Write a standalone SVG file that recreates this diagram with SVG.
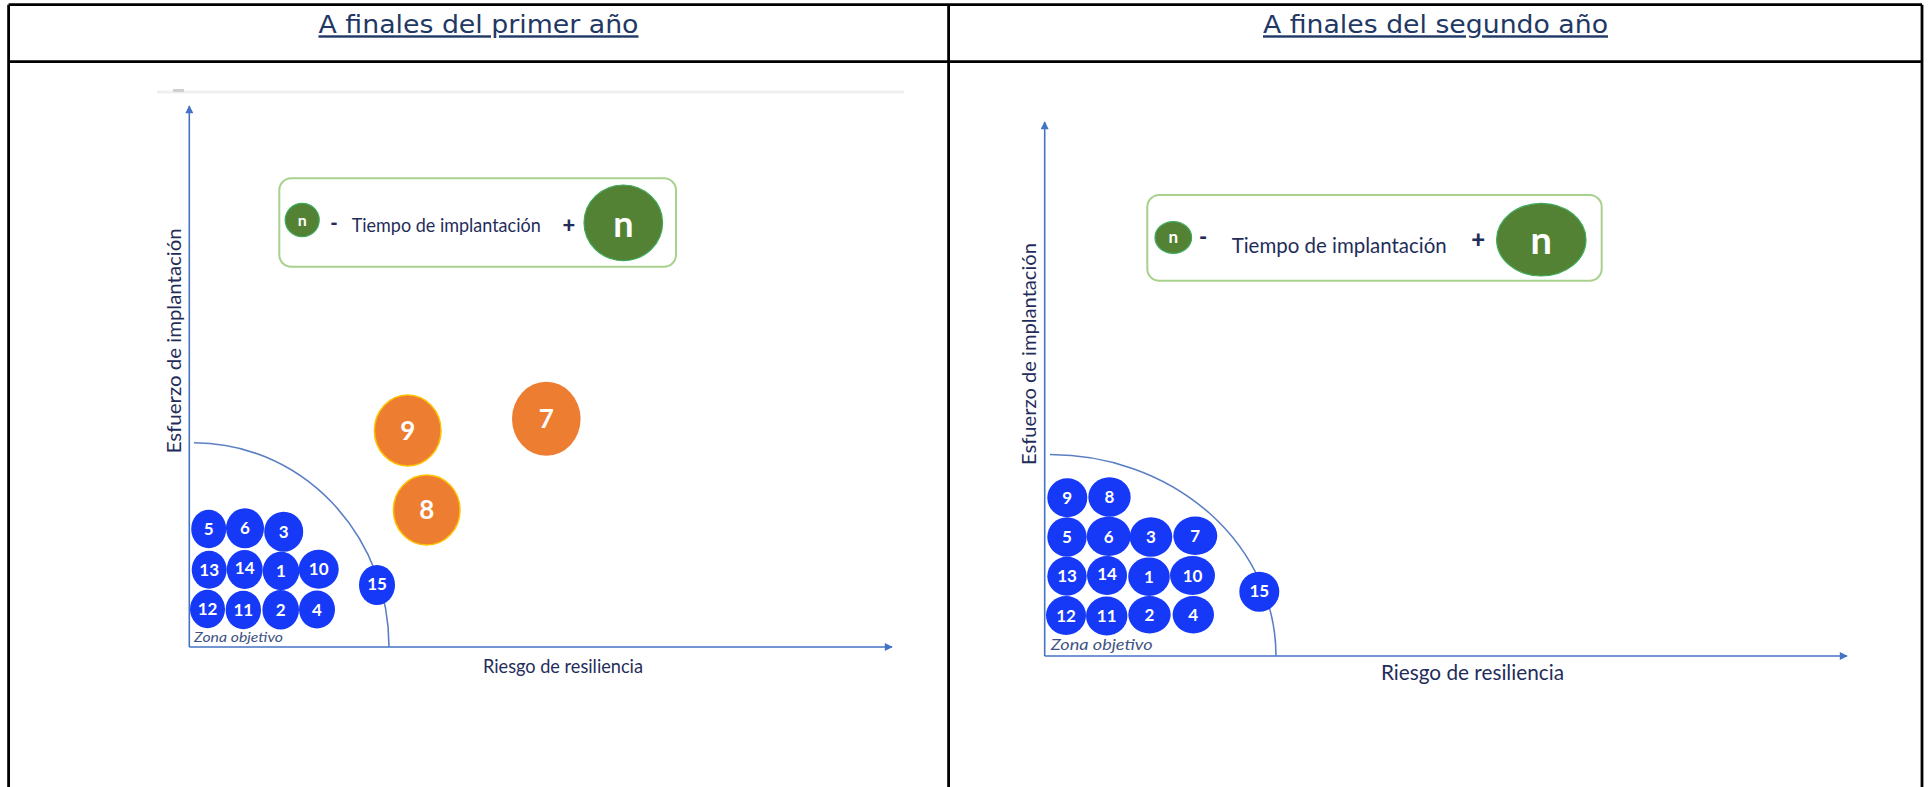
<svg xmlns="http://www.w3.org/2000/svg" width="1928" height="787" viewBox="0 0 1928 787">
<style>
.frame{stroke:#000;stroke-width:2.8;fill:none}
.title{font-family:"DejaVu Sans",Verdana,sans-serif;font-size:24px;fill:#1F3864;text-decoration:underline}
.axis{stroke:#4472C4;stroke-width:1.6;fill:none}
.arc{stroke:#5B7FC4;stroke-width:1.6;fill:none}
.lbl{font-family:Lato,"Open Sans",sans-serif;fill:#1F2D5A}
.zona{font-family:Lato,"Open Sans",sans-serif;font-style:italic;fill:#3E5383}
.legbox{fill:#fff;stroke:#A9D18E;stroke-width:2}
.gdot{fill:#548235;stroke:#3DAA5A;stroke-width:1.2}
.ntxt{font-family:Lato,"Open Sans",sans-serif;font-weight:bold;fill:#fff;text-anchor:middle}
.sign{font-family:Lato,"Open Sans",sans-serif;font-weight:900;fill:#1F2D5A;text-anchor:middle}
.blue{fill:#1539F7}
.orange{fill:#ED7D31;stroke:#FFC000;stroke-width:1.5}
.bnum{font-family:Lato,"Open Sans",sans-serif;font-weight:bold;fill:#fff;text-anchor:middle;font-size:17px}
.onum{font-family:Lato,"Open Sans",sans-serif;font-weight:bold;fill:#fff;text-anchor:middle;font-size:26px}
</style>
<defs>
<marker id="arr" viewBox="0 0 10 10" refX="9" refY="5" markerWidth="10" markerHeight="8" markerUnits="userSpaceOnUse" orient="auto">
<path d="M0,0 L10,5 L0,10 z" fill="#4472C4"/>
</marker>
</defs>
<rect width="1928" height="787" fill="#fff"/>

<g id="table">
<line class="frame" x1="8.6" y1="4.7" x2="1922" y2="4.7"/>
<line class="frame" x1="8.6" y1="61.7" x2="1922" y2="61.7"/>
<line class="frame" x1="8.6" y1="4.7" x2="8.6" y2="787"/>
<line class="frame" x1="948.6" y1="4.7" x2="948.6" y2="787"/>
<line class="frame" x1="1922" y1="4.7" x2="1922" y2="787"/>
<text id="title1" class="title" x="478.5" y="33.3" text-anchor="middle" textLength="320" lengthAdjust="spacingAndGlyphs">A finales del primer año</text>
<text id="title2" class="title" x="1435.5" y="33.3" text-anchor="middle" textLength="345" lengthAdjust="spacingAndGlyphs">A finales del segundo año</text>
</g>

<!-- LEFT CHART -->
<g id="left-chart">
<rect x="157" y="90.5" width="747" height="3" fill="#EFEFEF"/>
<rect x="173" y="89" width="11" height="3" fill="#D0D0D0"/>
<g id="left-axes">
<line class="axis" x1="189.3" y1="647" x2="189.3" y2="106" marker-end="url(#arr)"/>
<line class="axis" x1="189.3" y1="647" x2="892" y2="647" marker-end="url(#arr)"/>
<path class="arc" d="M194,442.7 A195,204 0 0 1 389,647"/>
</g>
<text class="lbl" transform="translate(180.5,340.8) rotate(-90)" text-anchor="middle" font-size="19" textLength="225" lengthAdjust="spacingAndGlyphs">Esfuerzo de implantación</text>
<text class="lbl" x="483" y="672.7" font-size="19" textLength="160" lengthAdjust="spacingAndGlyphs">Riesgo de resiliencia</text>
<text class="zona" x="194" y="641.5" font-size="14" textLength="89" lengthAdjust="spacingAndGlyphs">Zona objetivo</text>

<g id="left-legend">
<rect class="legbox" x="279.3" y="178.3" width="396.7" height="88.4" rx="12"/>
<ellipse class="gdot" cx="302.2" cy="220" rx="17" ry="16.7"/>
<text class="ntxt" x="302.2" y="225.5" font-size="16">n</text>
<text class="sign" x="334" y="230" font-size="20">-</text>
<text class="lbl" x="351.7" y="232" font-size="19" textLength="189" lengthAdjust="spacingAndGlyphs">Tiempo de implantación</text>
<text class="sign" x="569" y="232.5" font-size="22">+</text>
<ellipse class="gdot" cx="623.3" cy="222.8" rx="39.3" ry="37.8"/>
<text class="ntxt" x="623.3" y="236.5" font-size="36">n</text>
</g>

<g id="L-b5"><ellipse class="blue" cx="208.7" cy="529" rx="17.5" ry="19.3"/><text class="bnum" x="208.7" y="535">5</text></g>
<g id="L-b6"><ellipse class="blue" cx="245" cy="528.3" rx="19" ry="20"/><text class="bnum" x="245" y="534.3">6</text></g>
<g id="L-b3"><ellipse class="blue" cx="283.7" cy="531.7" rx="19.5" ry="20"/><text class="bnum" x="283.7" y="537.7">3</text></g>
<g id="L-b13"><ellipse class="blue" cx="209.2" cy="569.8" rx="17.5" ry="19"/><text class="bnum" x="209.2" y="575.8" font-size="16">13</text></g>
<g id="L-b14"><ellipse class="blue" cx="244.7" cy="569.5" rx="18" ry="19.5"/><text class="bnum" x="244.7" y="574.4" font-size="16">14</text></g>
<g id="L-b1"><ellipse class="blue" cx="281" cy="571" rx="18.3" ry="19.2"/><text class="bnum" x="281" y="577">1</text></g>
<g id="L-b10"><ellipse class="blue" cx="318.7" cy="569.2" rx="20" ry="19.5"/><text class="bnum" x="318.7" y="575.2" font-size="16">10</text></g>
<g id="L-b12"><ellipse class="blue" cx="207.5" cy="609" rx="17.5" ry="19.2"/><text class="bnum" x="207.5" y="615" font-size="16">12</text></g>
<g id="L-b11"><ellipse class="blue" cx="243.3" cy="610" rx="17.7" ry="19.3"/><text class="bnum" x="243.3" y="616" font-size="16">11</text></g>
<g id="L-b2"><ellipse class="blue" cx="280.7" cy="609.7" rx="18.3" ry="19.7"/><text class="bnum" x="280.7" y="615.7">2</text></g>
<g id="L-b4"><ellipse class="blue" cx="317" cy="609.5" rx="18" ry="19"/><text class="bnum" x="317" y="615.5">4</text></g>
<g id="L-b15"><ellipse class="blue" cx="377" cy="585" rx="18" ry="20"/><text class="bnum" x="377" y="590.4" font-size="15">15</text></g>
<g id="L-b9"><ellipse class="orange" cx="407.7" cy="430.5" rx="33.3" ry="35.5"/><text class="onum" x="407.7" y="439.6">9</text></g>
<g id="L-b8"><ellipse class="orange" cx="426.7" cy="510" rx="33.3" ry="35"/><text class="onum" x="426.7" y="519.1">8</text></g>
<g id="L-b7"><ellipse fill="#ED7D31" cx="546.3" cy="418.8" rx="34.3" ry="37"/><text class="onum" x="546.3" y="427.9">7</text></g>
</g>

<!-- RIGHT CHART -->
<g id="right-chart">
<g id="right-axes">
<line class="axis" x1="1044.7" y1="656" x2="1044.7" y2="122" marker-end="url(#arr)"/>
<line class="axis" x1="1044.7" y1="656" x2="1847" y2="656" marker-end="url(#arr)"/>
<path class="arc" d="M1050,454.5 A226,201.5 0 0 1 1276,656"/>
</g>
<text class="lbl" transform="translate(1035.5,354) rotate(-90)" text-anchor="middle" font-size="19" textLength="222" lengthAdjust="spacingAndGlyphs">Esfuerzo de implantación</text>
<text class="lbl" x="1381" y="680" font-size="21" textLength="183" lengthAdjust="spacingAndGlyphs">Riesgo de resiliencia</text>
<text class="zona" x="1050.7" y="650" font-size="16" textLength="102" lengthAdjust="spacingAndGlyphs">Zona objetivo</text>

<g id="right-legend">
<rect class="legbox" x="1147.3" y="195" width="454.4" height="85.7" rx="12"/>
<ellipse class="gdot" cx="1173.3" cy="237.5" rx="18.3" ry="15.8"/>
<text class="ntxt" x="1173.3" y="243" font-size="17">n</text>
<text class="sign" x="1203" y="244.5" font-size="22">-</text>
<text class="lbl" x="1231.7" y="253" font-size="21" textLength="215" lengthAdjust="spacingAndGlyphs">Tiempo de implantación</text>
<text class="sign" x="1478.3" y="248" font-size="24">+</text>
<ellipse class="gdot" cx="1541.3" cy="239.7" rx="44.7" ry="36.3"/>
<text class="ntxt" x="1541.3" y="253.5" font-size="38">n</text>
</g>

<g id="R-b9"><ellipse class="blue" cx="1067.3" cy="497.8" rx="20" ry="19.5"/><text class="bnum" x="1067.3" y="504" font-size="18">9</text></g>
<g id="R-b8"><ellipse class="blue" cx="1109.5" cy="497" rx="21.2" ry="19.7"/><text class="bnum" x="1109.5" y="503.2" font-size="18">8</text></g>
<g id="R-b5"><ellipse class="blue" cx="1067" cy="537" rx="19.7" ry="19.7"/><text class="bnum" x="1067" y="543.2" font-size="18">5</text></g>
<g id="R-b6"><ellipse class="blue" cx="1108.7" cy="536.3" rx="22" ry="19.7"/><text class="bnum" x="1108.7" y="542.5" font-size="18">6</text></g>
<g id="R-b3"><ellipse class="blue" cx="1151" cy="537" rx="21.3" ry="19.7"/><text class="bnum" x="1151" y="543.2" font-size="18">3</text></g>
<g id="R-b7"><ellipse class="blue" cx="1195.3" cy="535.8" rx="22" ry="19.2"/><text class="bnum" x="1195.3" y="542" font-size="18">7</text></g>
<g id="R-b13"><ellipse class="blue" cx="1067" cy="576.3" rx="19.7" ry="19.5"/><text class="bnum" x="1067" y="582.3">13</text></g>
<g id="R-b14"><ellipse class="blue" cx="1107" cy="575.5" rx="20" ry="19.5"/><text class="bnum" x="1107" y="580.3">14</text></g>
<g id="R-b1"><ellipse class="blue" cx="1149" cy="576.7" rx="20.8" ry="19.3"/><text class="bnum" x="1149" y="582.9" font-size="18">1</text></g>
<g id="R-b10"><ellipse class="blue" cx="1192.5" cy="575.5" rx="22.5" ry="19.5"/><text class="bnum" x="1192.5" y="581.5">10</text></g>
<g id="R-b12"><ellipse class="blue" cx="1066" cy="615.5" rx="20" ry="19.5"/><text class="bnum" x="1066" y="621.5">12</text></g>
<g id="R-b11"><ellipse class="blue" cx="1106.7" cy="616" rx="20.7" ry="19.5"/><text class="bnum" x="1106.7" y="622">11</text></g>
<g id="R-b2"><ellipse class="blue" cx="1149.5" cy="614.7" rx="21.2" ry="18.7"/><text class="bnum" x="1149.5" y="620.9" font-size="18">2</text></g>
<g id="R-b4"><ellipse class="blue" cx="1193.3" cy="614.7" rx="20.7" ry="18.7"/><text class="bnum" x="1193.3" y="620.9" font-size="18">4</text></g>
<g id="R-b15"><ellipse class="blue" cx="1259.3" cy="591.7" rx="20" ry="20"/><text class="bnum" x="1259.3" y="597.3" font-size="16">15</text></g>
</g>
</svg>
